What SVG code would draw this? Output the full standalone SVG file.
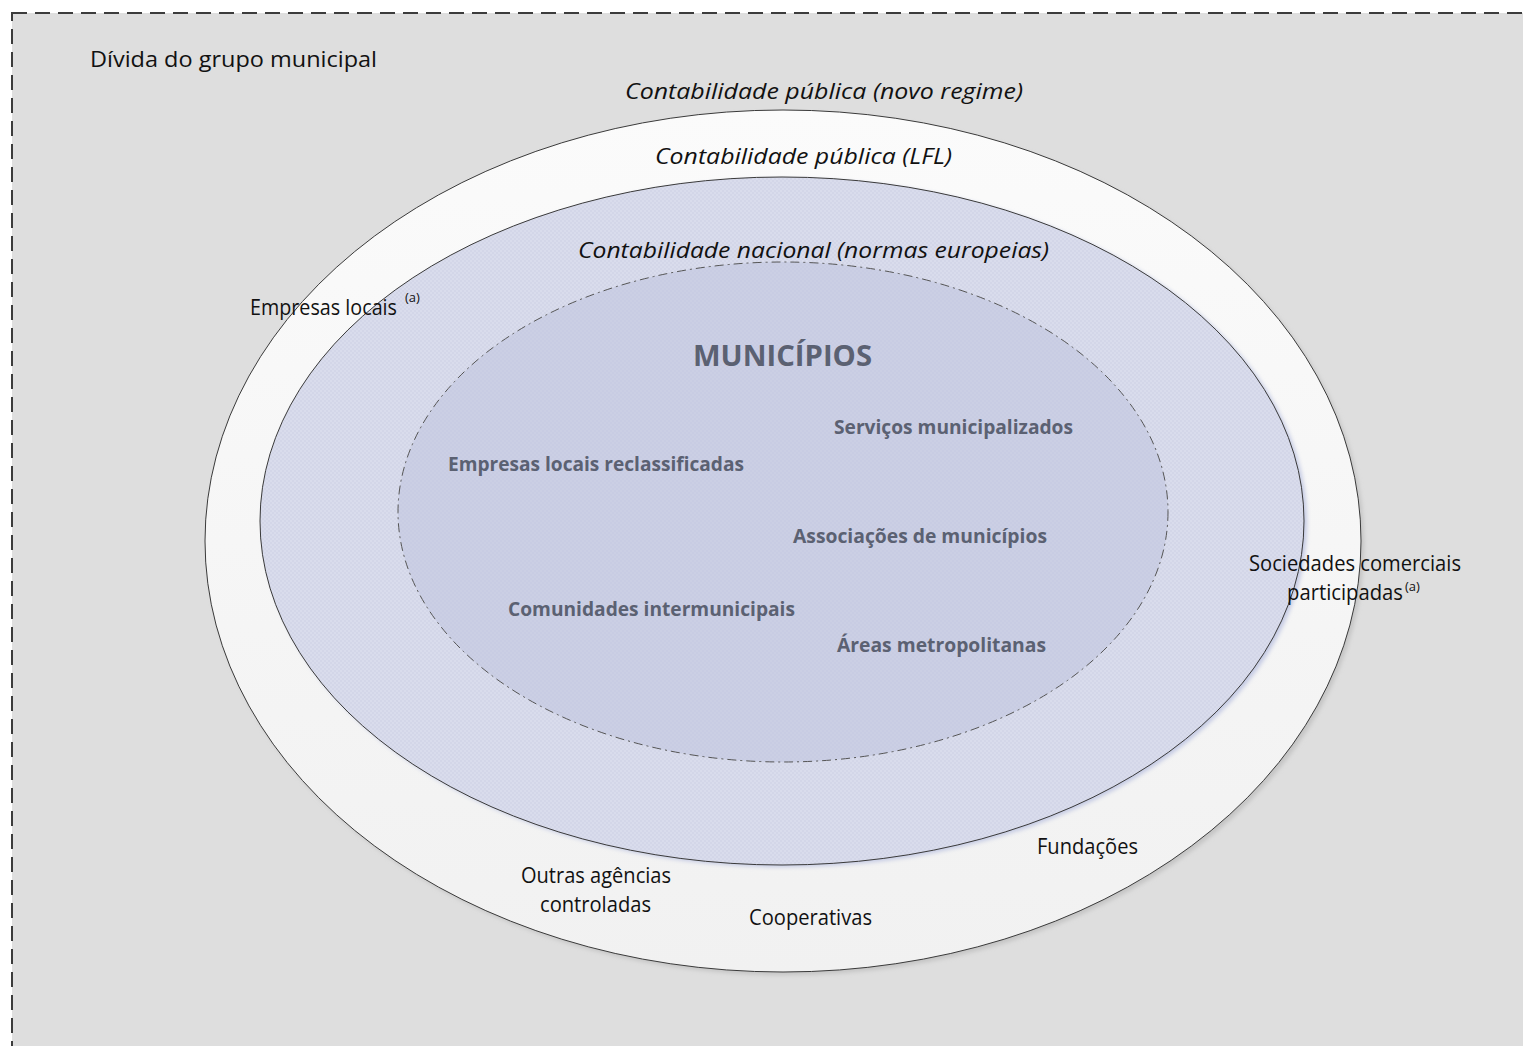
<svg xmlns="http://www.w3.org/2000/svg" width="1523" height="1046" viewBox="0 0 1523 1046">
  <style>
    .t { font-family: "Open Sans", "Liberation Sans", sans-serif; fill: #111; }
    .lbl { font-size: 21px; }
    .it { font-size: 22.5px; font-style: italic; }
    .b { font-size: 19.5px; font-weight: bold; fill: #5b6172; }
    .big { font-size: 29px; font-weight: bold; fill: #5b6172; }
    .sup { font-size: 13px; }
  </style>
  <defs>
    <pattern id="grain" width="4" height="4" patternUnits="userSpaceOnUse">
      <rect width="4" height="4" fill="#d9dcec"/>
      <rect width="2" height="2" fill="#d3d6e8"/>
      <rect x="2" y="2" width="2" height="2" fill="#d3d6e8"/>
    </pattern>
    <linearGradient id="outerFill" x1="0" y1="0" x2="0" y2="1">
      <stop offset="0" stop-color="#fbfbfb"/>
      <stop offset="1" stop-color="#f1f1f1"/>
    </linearGradient>
    <filter id="soft" x="-10%" y="-10%" width="120%" height="120%">
      <feGaussianBlur stdDeviation="2"/>
    </filter>
  </defs>

  <!-- frame: municipal group debt -->
  <g id="frame">
    <rect x="12" y="13" width="1530" height="1050" fill="#dedede" stroke="#3c3c3c" stroke-width="2" stroke-dasharray="15 8"/>
    <text class="t lbl" x="90" y="67" textLength="287" lengthAdjust="spacingAndGlyphs">Dívida do grupo municipal</text>
  </g>

  <!-- outer ring: public accounting (new regime) -->
  <g id="public-new">
    <ellipse cx="786" cy="544" rx="578" ry="431" fill="#c4c4c4" filter="url(#soft)"/>
    <ellipse cx="783" cy="541" rx="578" ry="431" fill="url(#outerFill)" stroke="#3a3a3a" stroke-width="1"/>
    <text class="t it" x="625" y="99" textLength="398" lengthAdjust="spacingAndGlyphs">Contabilidade pública (novo regime)</text>
  </g>

  <!-- middle ring: public accounting (LFL) -->
  <g id="public-lfl">
    <ellipse cx="785" cy="523" rx="522" ry="344" fill="#c3c9e3" filter="url(#soft)"/>
    <ellipse cx="782" cy="521" rx="522" ry="344" fill="url(#grain)" stroke="#3a3a3a" stroke-width="1"/>
    <text class="t it" x="655" y="164" textLength="297" lengthAdjust="spacingAndGlyphs">Contabilidade pública (LFL)</text>
  </g>

  <!-- inner core: national accounts -->
  <g id="national">
    <ellipse cx="783" cy="512" rx="385" ry="250" fill="#bfc5df" fill-opacity="0.55" stroke="#555" stroke-width="1" stroke-dasharray="9 4 2 4"/>
    <text class="t it" x="578" y="258" textLength="471" lengthAdjust="spacingAndGlyphs">Contabilidade nacional (normas europeias)</text>
  </g>

  <g id="municipios">
    <text class="t big" x="693" y="366" textLength="179" lengthAdjust="spacingAndGlyphs">MUNICÍPIOS</text>
  </g>
  <g id="servicos">
    <text class="t b" x="834" y="434" textLength="239" lengthAdjust="spacingAndGlyphs">Serviços municipalizados</text>
  </g>
  <g id="empresas-reclass">
    <text class="t b" x="448" y="471" textLength="296" lengthAdjust="spacingAndGlyphs">Empresas locais reclassificadas</text>
  </g>
  <g id="associacoes">
    <text class="t b" x="793" y="543" textLength="254" lengthAdjust="spacingAndGlyphs">Associações de municípios</text>
  </g>
  <g id="comunidades">
    <text class="t b" x="508" y="616" textLength="287" lengthAdjust="spacingAndGlyphs">Comunidades intermunicipais</text>
  </g>
  <g id="areas">
    <text class="t b" x="837" y="652" textLength="209" lengthAdjust="spacingAndGlyphs">Áreas metropolitanas</text>
  </g>

  <!-- entities outside the national-accounts core -->
  <g id="empresas-locais">
    <text class="t lbl" x="250" y="315" textLength="147" lengthAdjust="spacingAndGlyphs">Empresas locais</text>
    <text class="t sup" x="405" y="302">(a)</text>
  </g>
  <g id="sociedades">
    <text class="t lbl" x="1249" y="571" textLength="212" lengthAdjust="spacingAndGlyphs">Sociedades comerciais</text>
    <text class="t lbl" x="1287" y="600"><tspan textLength="116" lengthAdjust="spacingAndGlyphs">participadas</tspan><tspan class="sup" dx="2" dy="-9">(a)</tspan></text>
  </g>
  <g id="fundacoes">
    <text class="t lbl" x="1037" y="854" textLength="101" lengthAdjust="spacingAndGlyphs">Fundações</text>
  </g>
  <g id="outras">
    <text class="t lbl" x="521" y="883" textLength="150" lengthAdjust="spacingAndGlyphs">Outras agências</text>
    <text class="t lbl" x="540" y="912" textLength="111" lengthAdjust="spacingAndGlyphs">controladas</text>
  </g>
  <g id="cooperativas">
    <text class="t lbl" x="749" y="925" textLength="123" lengthAdjust="spacingAndGlyphs">Cooperativas</text>
  </g>

  <g id="connectors"/>
</svg>
